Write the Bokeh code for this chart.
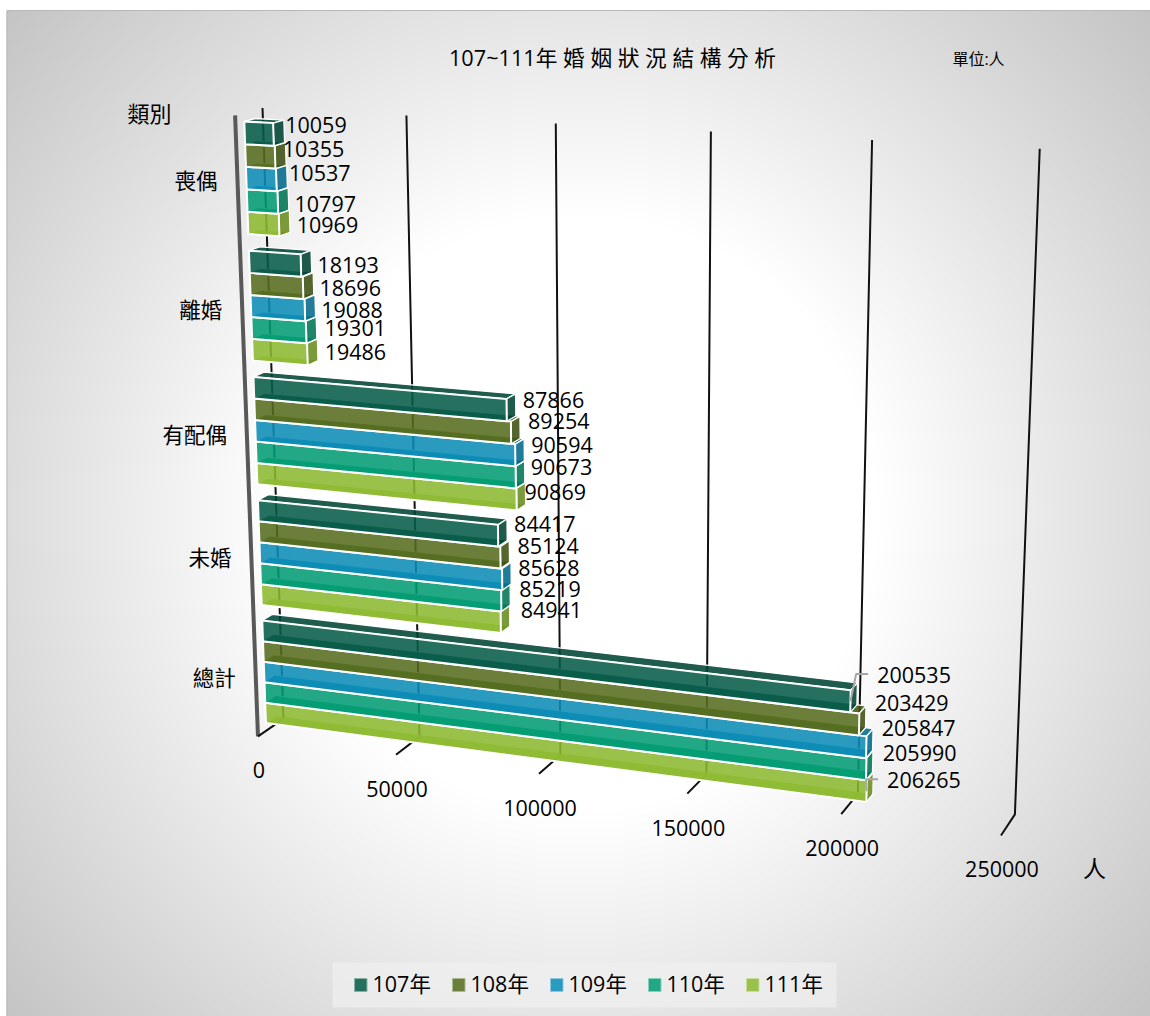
import numpy as np
from bokeh.plotting import figure
from bokeh.models import Range1d
from bokeh.core.properties import value
from bokeh.embed import file_html
from bokeh.resources import INLINE

# ---------- data ----------
categories = ["喪偶", "離婚", "有配偶", "未婚", "總計"]
series_names = ["107年", "108年", "109年", "110年", "111年"]
v107 = [10059, 18193, 87866, 84417, 200535]
v108 = [10355, 18696, 89254, 85124, 203429]
v109 = [10537, 19088, 90594, 85628, 205847]
v110 = [10797, 19301, 90673, 85219, 205990]
v111 = [10969, 19486, 90869, 84941, 206265]
series_values = [v107, v108, v109, v110, v111]
axis_ticks = [0, 50000, 100000, 150000, 200000, 250000]
series_colors = [(38, 112, 96), (107, 127, 58), (42, 154, 191), (34, 168, 132), (154, 194, 74)]

# hand placement of the data labels relative to their bars (category, then series)
label_nudge = [
    [(-5, -8), (-9, -7), (-4, -6), (0, 3), (1, 2)],
    [(0, 1), (0, 2), (0, 2), (2, -2), (1, 0)],
    [(1, -7), (2, -8), (1, -7), (0, -7), (-7, -4)],
    [(1, -8), (2, -8), (1, -7), (3, -7), (5, -8)],
    [(14, -21), (3, -16), (3, -14), (4, -10), (8, -5)],
]

W, H = 1150, 1016
FONT = value("Open Sans, 'Noto Sans CJK TC'")

# ---------- 3D scale: (value, category depth, wall depth) -> screen ----------
calib = []
for t, a, b, c in zip(axis_ticks,
                      [(258, 736), (396, 755), (539, 773), (687, 793), (841, 814), (1000, 834)],
                      [(283, 717), (417, 735), (560, 755), (706, 775), (858, 795), (1014, 813)],
                      [(263, 108), (406, 115), (556, 123), (711, 131), (871, 139), (1039, 148)]):
    calib += [((t / 250000, 1, 0), a), ((t / 250000, 1, 1), b), ((t / 250000, 0, 1), c)]
calib.append(((0, 0, 0), (233, 115)))
rows = []
for (X, Y, Z), (u, w) in calib:
    u, w = u / 1000, w / 1000
    rows.append([X, Y, Z, 1, 0, 0, 0, 0, -u * X, -u * Y, -u * Z, -u])
    rows.append([0, 0, 0, 0, X, Y, Z, 1, -w * X, -w * Y, -w * Z, -w])
PM = np.linalg.svd(np.array(rows))[2][-1].reshape(3, 4)


def proj(val, s, d):
    q = PM @ np.array([val / 250000, s, d, 1.0])
    return q[0] / q[2] * 1000, q[1] / q[2] * 1000


p = figure(width=W, height=H, x_range=Range1d(0, W), y_range=Range1d(H, 0),
           output_backend="svg", toolbar_location=None, min_border=0,
           background_fill_color="white", border_fill_color="white", outline_line_color=None)
p.axis.visible = False
p.grid.visible = False

# ---------- background ----------
yy, xx = np.mgrid[0:503, 0:572]
px_x, px_y = 6 + xx * 2 + 1, 10 + yy * 2 + 1
rad = np.hypot(px_x - 578, px_y - 513)
shade = (255 - 60 * np.clip((rad - 300) / 472, 0, 1)).astype(np.uint8)
img = np.empty(shade.shape, dtype=np.uint32)
view = img.view(dtype=np.uint8).reshape(shade.shape + (4,))
view[..., 0] = view[..., 1] = view[..., 2] = shade
view[..., 3] = 255
p.image_rgba(image=[img], x=6, y=1016, dw=1144, dh=1006, anchor="top_left", origin="top_left")
p.line([6.5, 6.5, 1150], [1016, 10, 10], line_color="#b8b8b8", line_width=1)

# ---------- walls ----------
p.line(*zip(proj(0, 0, 0), proj(0, 1, 0)), line_color="#595959", line_width=4)
for t in axis_ticks:
    pts = [proj(t, 0, 1), proj(t, 1, 1), proj(t, 1, 0)]
    p.line([q[0] for q in pts], [q[1] for q in pts], line_color="#111111", line_width=2)

# ---------- bars ----------
D0, D1 = 0.32, 0.72
MARGIN, FACE_ALPHA = 0.065, 0.88


def fill(rgb, k=1.0):
    c = [(x * k - (1 - FACE_ALPHA) * 255) / FACE_ALPHA for x in rgb]
    return "#%02x%02x%02x" % tuple(int(min(255, max(0, x))) for x in c)


def face(pts, color, line=None, lw=1.3):
    p.patch([q[0] for q in pts], [q[1] for q in pts], fill_color=color, fill_alpha=FACE_ALPHA,
            line_color=line, line_width=lw)


band = (1 - 2 * MARGIN) / 5
ends = {}
for c in range(len(categories)):
    for k in range(4, -1, -1):
        vals, rgb = series_values[k], series_colors[k]
        v = vals[c]
        s0 = (c + MARGIN + k * band) / 5
        s1 = (c + MARGIN + (k + 1) * band) / 5
        face([proj(0, s1, D0), proj(v, s1, D0), proj(v, s1, D1), proj(0, s1, D1)], fill(rgb, 1.05))
        face([proj(0, s0, D0), proj(v, s0, D0), proj(v, s0, D1), proj(0, s0, D1)], fill(rgb, 0.82),
             "white")
        face([proj(v, s0, D0), proj(v, s1, D0), proj(v, s1, D1), proj(v, s0, D1)], fill(rgb, 0.8), "white")
        face([proj(0, s0, D0), proj(v, s0, D0), proj(v, s1, D0), proj(0, s1, D0)], fill(rgb), "white", 2)
        ends[(c, k)] = proj(v, (s0 + s1) / 2, D1), proj(v, (s0 + s1) / 2, D0)

# ---------- texts ----------
def text(x, y, t, size, align="left", color="#000000"):
    p.text([x], [y], text=[t], text_font=FONT, text_font_size=f"{size}px", text_color=color,
           text_align=align, text_baseline="middle")


for c, name in enumerate(categories):
    x, y = proj(0, (c + 0.5) / 5, 0)
    text(x - 20, y, name, 21.5, "right")

for t in axis_ticks:
    x, y = proj(t, 1, 0)
    text(x + 1, y + 34, str(t), 21.5, "center")

for c in range(len(categories)):
    for k, vals in enumerate(series_values):
        (x, y), start = ends[(c, k)]
        dx, dy = label_nudge[c][k]
        lx, ly = x + 6 + dx, y + 2 + dy
        if (c, k) in ((4, 0), (4, 4)):
            p.line([start[0], lx - 21, lx - 9], [start[1], ly - 1, ly - 1], line_color="#a6a6a6", line_width=2)
        text(lx, ly, str(vals[c]), 21.5)

text(612, 57, "107~111年 婚 姻 狀 況 結 構 分 析", 21.7, "center")
text(978, 58, "單位:人", 16, "center")
text(149, 112, "類別", 22, "center")
text(1094, 867, "人", 23, "center")

# ---------- legend ----------
p.quad(left=[332], right=[836], top=[962], bottom=[1007], fill_color="#f0f0f0", fill_alpha=0.7, line_color=None)
for i, (name, rgb) in enumerate(zip(series_names, series_colors)):
    x0 = 354 + i * 98
    p.quad(left=[x0], right=[x0 + 12.5], top=[978], bottom=[991], fill_color="#%02x%02x%02x" % rgb,
           line_color="#%02x%02x%02x" % tuple(min(255, int(a + (255 - a) * 0.45)) for a in rgb), line_width=1)
    text(x0 + 18, 983, name, 21.5)

open("out.html", "w").write(file_html(p, INLINE))
